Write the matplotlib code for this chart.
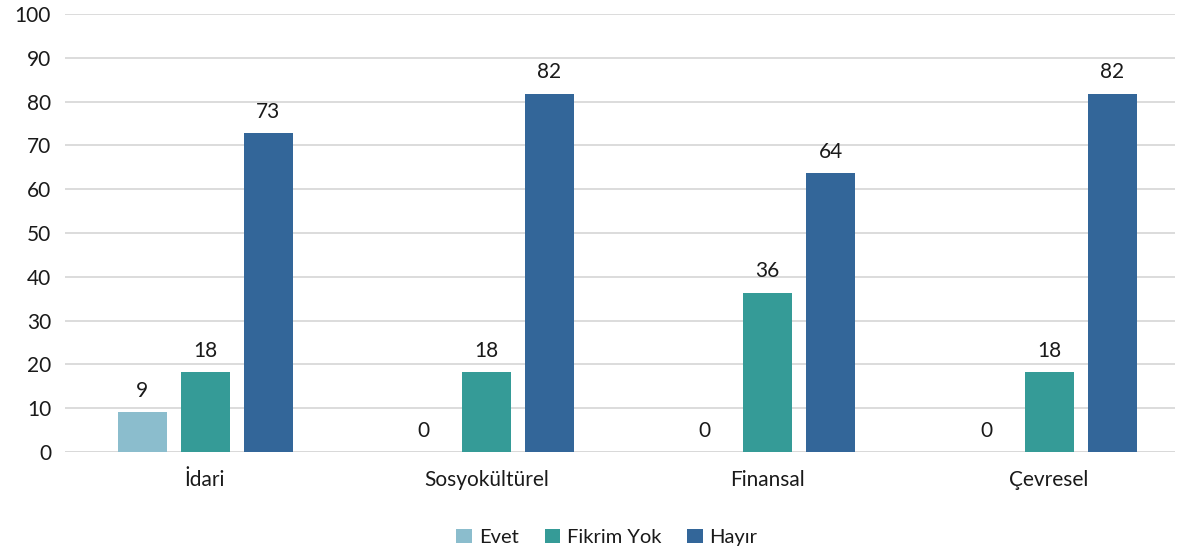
import matplotlib
matplotlib.use("Agg")
import matplotlib.pyplot as plt
import numpy as np

categories = ["İdari", "Sosyokültürel", "Finansal", "Çevresel"]
series_names = ["Evet", "Fikrim Yok", "Hayır"]
evet = [9.09, 0, 0, 0]
fikrim_yok = [18.18, 18.18, 36.36, 18.18]
hayir = [72.73, 81.82, 63.64, 81.82]
labels_evet = ["9", "0", "0", "0"]
labels_fikrim = ["18", "18", "36", "18"]
labels_hayir = ["73", "82", "64", "82"]
colors = ["#8bbdcd", "#359b97", "#336699"]

plt.rcParams['font.family'] = ['Lato', 'DejaVu Sans']
fig = plt.figure(figsize=(11.81, 5.51), dpi=100)
ax = fig.add_axes([0.055, 0.1797, 0.940, 0.7949])

x = np.arange(len(categories))
w = 0.174
step = 0.224
txtc = "#1a1a1a"
fs = 15
for i, (vals, labs) in enumerate(zip([evet, fikrim_yok, hayir], [labels_evet, labels_fikrim, labels_hayir])):
    pos = x + (i - 1) * step
    ax.bar(pos, vals, width=w, color=colors[i], label=series_names[i], zorder=3)
    for p, v, l in zip(pos, vals, labs):
        ax.text(p, v + 2.6, l, ha='center', va='bottom', fontsize=fs, color=txtc)

ax.set_xlim(-0.498, 3.448)
ax.set_ylim(0, 100)
ax.set_yticks(np.arange(0, 101, 10))
ax.set_xticks(x)
ax.set_xticklabels(categories)
ax.tick_params(axis='both', length=0, labelsize=fs, colors=txtc)
ax.tick_params(axis='x', pad=13)
ax.tick_params(axis='y', pad=10)
ax.grid(axis='y', color='#d9d9d9', linewidth=1.3, zorder=0)
for s in ax.spines.values():
    s.set_visible(False)
ax.axhline(0, color='#d9d9d9', linewidth=1.3, zorder=2)

leg = fig.legend(loc='center', bbox_to_anchor=(0.514, 0.025), ncol=3, frameon=False,
                 fontsize=14.5, handlelength=0.75, handleheight=0.75, handletextpad=0.35,
                 columnspacing=1.3)
for t in leg.get_texts():
    t.set_color(txtc)

fig.savefig("out.png", dpi=100)
